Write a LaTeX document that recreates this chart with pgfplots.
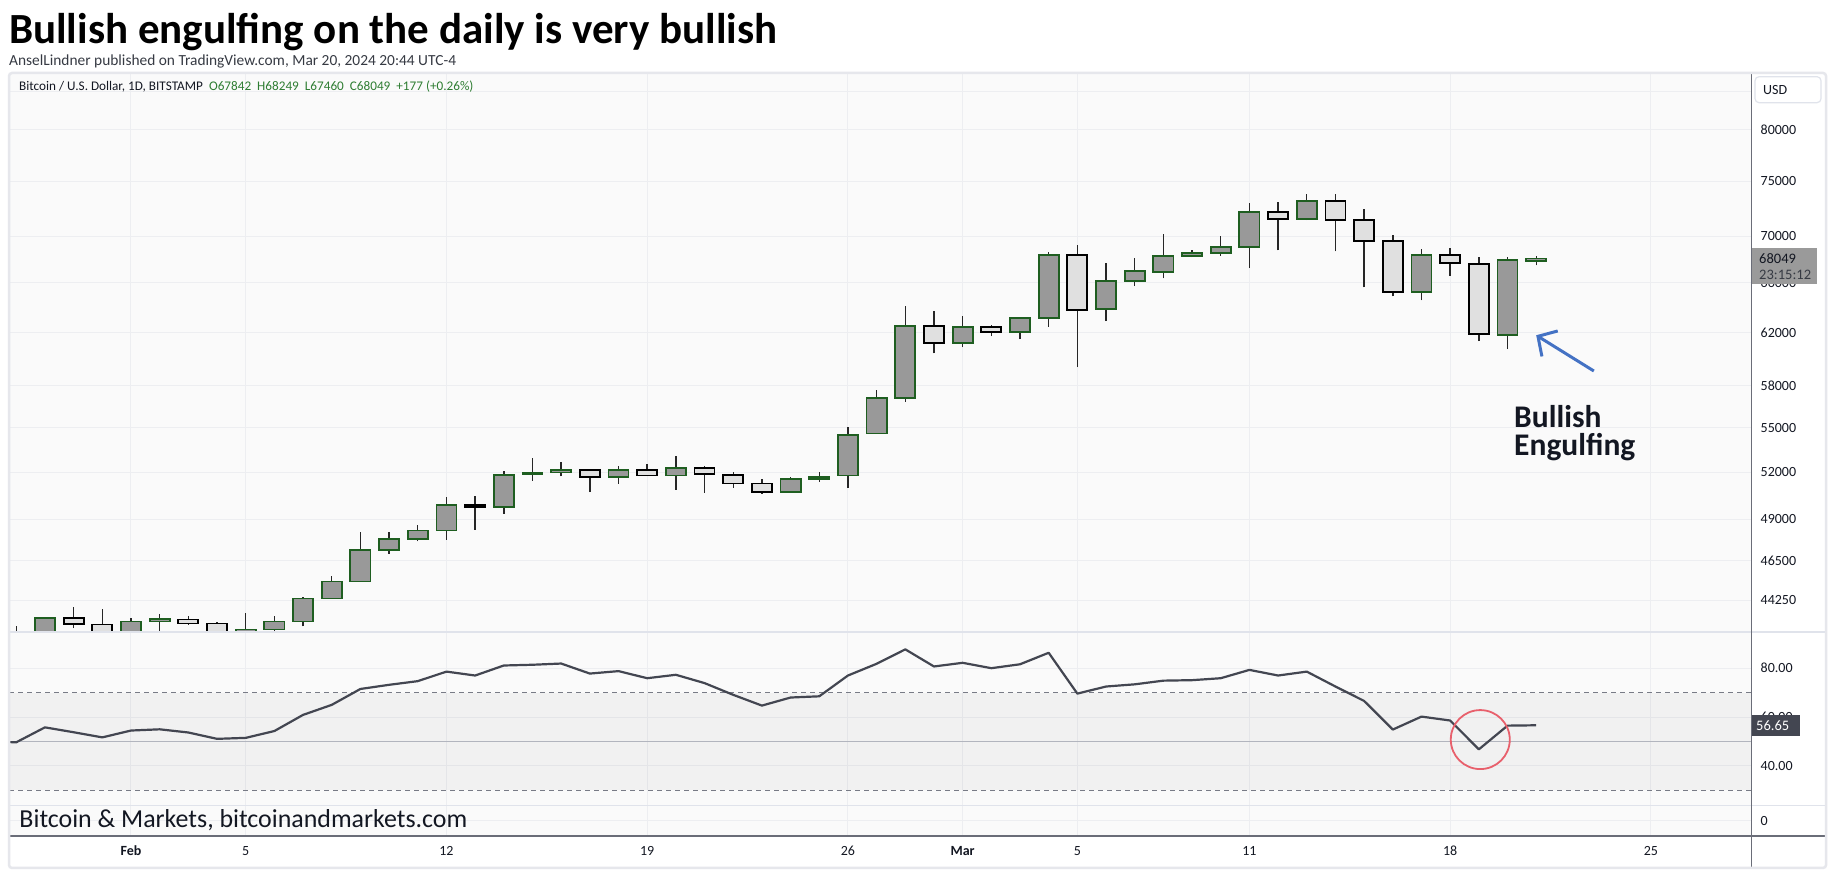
\documentclass[border=0pt]{standalone}
\usepackage{pgfplots}
\pgfplotsset{compat=1.18}
\usepackage{fontspec}
\setmainfont{Carlito}
\usetikzlibrary{arrows.meta}
\definecolor{upf}{HTML}{999999}
\definecolor{upb}{HTML}{1E5E20}
\definecolor{dnf}{HTML}{E0E0E0}
\definecolor{wickc}{HTML}{262626}
\definecolor{gridc}{HTML}{EDEEF1}
\definecolor{bgc}{HTML}{FAFAFA}
\definecolor{framec}{HTML}{E6E7EC}
\definecolor{sepc}{HTML}{E0E3EB}
\definecolor{axc}{HTML}{6A6D78}
\definecolor{txt}{HTML}{131722}
\definecolor{lg}{HTML}{2E7D32}
\definecolor{rsic}{HTML}{434651}
\definecolor{dashc}{HTML}{787B86}
\definecolor{midc}{HTML}{B2B5BE}
\definecolor{tagc}{HTML}{9A9A9A}
\definecolor{rtag}{HTML}{434651}
\definecolor{circc}{HTML}{E8606C}
\definecolor{arrc}{HTML}{4472C4}
\pgfplotsset{
  up/.style={draw=upb, fill=upf, line width=1.8pt, line join=miter},
  dn/.style={draw=black, fill=dnf, line width=1.8pt, line join=miter},
  wk/.style={wickc, line width=1.4pt},
  pane/.style={scale only axis, anchor=south west, width=1742pt,
    xmin=-4.254, xmax=56.49, axis line style={draw=none}, tick style={draw=none},
    xtick={0,4,11,18,25,29,33,39,46,53},
    grid=major, major grid style={gridc, line width=1pt},
    yticklabel pos=right,
    yticklabel style={anchor=west, inner sep=0pt, xshift=9.5pt, text=txt,
      font=\fontsize{14}{14}\selectfont},
    /pgf/number format/assume math mode=true},
  nox/.style={xmajorticks=false},
}
% x, open, high, low, close, style
\newcommand\candle[6]{%
  \pgfmathsetmacro\xa{#1-0.35}%
  \pgfmathsetmacro\xb{#1+0.35}%
  \edef\doplot{\noexpand\addplot[wk] coordinates {(#1,#4) (#1,#3)};
    \noexpand\addplot[#6] coordinates {(\xa,#2) (\xb,#2) (\xb,#5) (\xa,#5)} -- cycle;}%
  \doplot}
\begin{document}
\begin{tikzpicture}[x=1pt,y=1pt]
\useasboundingbox[fill=white] (0,0) rectangle (1835,880);
\fill[white] (9,12) rectangle (1826,807);
\fill[bgc] (9,44) rectangle (1751.7,807);

% ---------------- price pane ----------------
\begin{axis}[pane, nox, at={(9pt,248pt)}, height=559pt,
  ymode=log, ymin=42527, ymax=85951,
  ytick={44250,46500,49000,52000,55000,58000,62000,66000,70000,75000,80000,84000},
  yticklabels={44250,46500,49000,52000,55000,58000,62000,66000,70000,75000,80000,{}}]
\candle{-4}{42100}{42824}{41800}{42030}{dn}
\candle{-3}{42030}{43310}{41800}{43294}{up}
\candle{-2}{43294}{43881}{42736}{42942}{dn}
\candle{-1}{42921}{43776}{42300}{42500}{dn}
\candle{0}{42500}{43253}{41900}{43087}{up}
\candle{1}{43087}{43503}{42592}{43211}{up}
\candle{2}{43190}{43377}{42921}{42983}{dn}
\candle{3}{42983}{43087}{42300}{42550}{dn}
\candle{4}{42550}{43545}{42300}{42654}{up}
\candle{5}{42654}{43360}{42592}{43087}{up}
\candle{6}{43087}{44411}{42824}{44347}{up}
\candle{7}{44347}{45601}{44347}{45317}{up}
\candle{8}{45317}{48194}{45317}{47162}{up}
\candle{9}{47162}{48194}{46914}{47779}{up}
\candle{10}{47779}{48636}{47664}{48310}{up}
\candle{11}{48310}{50374}{47750}{49891}{up}
\candle{12}{49915}{50446}{48356}{49750}{dn}
\candle{13}{49750}{52103}{49343}{51829}{up}
\candle{14}{51854}{52911}{51431}{51978}{up}
\candle{15}{51978}{52657}{51729}{52154}{up}
\candle{16}{52154}{52229}{50714}{51655}{dn}
\candle{17}{51655}{52430}{51236}{52154}{up}
\candle{18}{52154}{52531}{51750}{51778}{dn}
\candle{19}{51778}{53064}{50860}{52279}{up}
\candle{20}{52279}{52430}{50665}{51854}{dn}
\candle{21}{51829}{52028}{50982}{51261}{dn}
\candle{22}{51261}{51531}{50592}{50738}{dn}
\candle{23}{50738}{51704}{50665}{51570}{up}
\candle{24}{51570}{52002}{51382}{51704}{up}
\candle{25}{51778}{55012}{50982}{54512}{up}
\candle{26}{54590}{57638}{54590}{57114}{up}
\candle{27}{57114}{64066}{56813}{62515}{up}
\candle{28}{62515}{63730}{60388}{61177}{dn}
\candle{29}{61177}{63332}{60854}{62425}{up}
\candle{30}{62425}{62545}{61709}{62036}{dn}
\candle{31}{62036}{63241}{61472}{63150}{up}
\candle{32}{63150}{68625}{62425}{68329}{up}
\candle{33}{68329}{69254}{59352}{63760}{dn}
\candle{34}{63852}{67675}{62877}{66132}{up}
\candle{35}{66132}{68132}{65720}{66995}{up}
\candle{36}{66898}{70194}{66355}{68263}{up}
\candle{37}{68263}{68758}{68165}{68526}{up}
\candle{38}{68493}{70026}{68263}{69022}{up}
\candle{39}{69022}{72981}{67221}{72143}{up}
\candle{40}{72143}{73087}{68758}{71522}{dn}
\candle{41}{71522}{73757}{71419}{73157}{up}
\candle{42}{73157}{73827}{68658}{71419}{dn}
\candle{43}{71419}{72457}{65624}{69555}{dn}
\candle{44}{69555}{70100}{64880}{65220}{dn}
\candle{45}{65220}{68890}{64546}{68329}{up}
\candle{46}{68329}{68935}{66596}{67643}{dn}
\candle{47}{67560}{68170}{61330}{61856}{dn}
\candle{48}{61800}{68150}{60710}{67893}{up}
\candle{49}{67842}{68249}{67460}{68049}{up}
% annotation arrow
\addplot[arrc, line width=3pt, -{Straight Barb[length=14pt,width=30pt,line width=3pt]}]
  coordinates {(51.01,59062) (49.0,61778)};
\end{axis}

% ---------------- RSI pane ----------------
\begin{axis}[pane, nox, at={(9pt,74.3pt)}, height=173.7pt,
  ymin=23.76, ymax=94.8, ytick={40,60,80}, yticklabels={40.00,60.00,80.00}]
\addplot[draw=none, fill=black, fill opacity=0.035]
  coordinates {(-4.254,30) (56.49,30) (56.49,70) (-4.254,70)} -- cycle;
\addplot[dashc, line width=1pt, dash pattern=on 5pt off 4pt] coordinates {(-4.254,70) (56.49,70)};
\addplot[dashc, line width=1pt, dash pattern=on 5pt off 4pt] coordinates {(-4.254,30) (56.49,30)};
\addplot[midc, line width=1.3pt] coordinates {(-4.254,50) (56.49,50)};
\addplot[rsic, line width=2.2pt, line join=round] coordinates {
(-5,50.0) (-4,49.7) (-3,55.8) (-2,53.8) (-1,51.7) (0,54.5) (1,55.0) (2,53.7) (3,51.1) (4,51.5)
(5,54.3) (6,60.9) (7,65.0) (8,71.5) (9,73.2) (10,74.7) (11,78.6) (12,77.0) (13,81.1) (14,81.4)
(15,81.9) (16,77.8) (17,78.8) (18,75.9) (19,77.3) (20,73.9) (21,69.1) (22,64.7) (23,68.0) (24,68.5)
(25,77.0) (26,81.8) (27,87.7) (28,80.7) (29,82.2) (30,80.0) (31,81.6) (32,86.3) (33,69.6) (34,72.5)
(35,73.4) (36,74.9) (37,75.1) (38,75.9) (39,79.3) (40,77.0) (41,78.6) (42,72.5) (43,66.6) (44,54.9)
(45,60.2) (46,58.6) (47,46.8) (48,56.5) (49,56.65)};
\addplot[only marks, mark=o, mark size=29.5pt, mark options={draw=circc, line width=1.8pt}]
  coordinates {(47.05,50.8)};
\end{axis}

% ---------------- bottom pane + dates ----------------
\begin{axis}[pane, at={(9pt,44pt)}, height=30.3pt,
  ymin=-1, ymax=1, ytick={0}, yticklabels={0},
  xticklabels={\textbf{Feb},5,12,19,26,\textbf{Mar},5,11,18,25},
  xticklabel style={anchor=base, yshift=-19pt, text=txt, font=\fontsize{14}{14}\selectfont}]
\end{axis}

% separators and frame
\draw[sepc, line width=1.2pt] (9,248) -- (1826,248);
\draw[sepc, line width=1.2pt] (9,74.3) -- (1826,74.3);
\draw[axc, line width=1.2pt] (9,44) -- (1826,44);
\draw[axc, line width=1.2pt] (1751.7,12) -- (1751.7,807);
\draw[framec, line width=2.5pt, rounded corners=3pt] (9,12) rectangle (1826,807);

% price tag
\fill[tagc] (1751.7,596) rectangle (1816.7,632);
\node[anchor=base west, inner sep=0, text=txt, font=\fontsize{14.5}{14.5}\selectfont] at (1759,616.7) {68049};
\node[anchor=base west, inner sep=0, text=txt!85, font=\fontsize{14.5}{14.5}\selectfont] at (1759,600.7) {23:15:12};
% RSI tag
\fill[rtag] (1751.7,144.3) rectangle (1800,165);
\node[anchor=west, inner sep=0, text=white, font=\fontsize{14.5}{14.5}\selectfont] at (1756,154.6) {56.65};
% USD button
\draw[sepc, fill=white, line width=1.2pt, rounded corners=4pt] (1755,777.3) rectangle (1821,803.3);
\node[anchor=west, inner sep=0, text=txt, font=\fontsize{14}{14}\selectfont] at (1763,790.3) {USD};

% titles
\node[anchor=base west, inner sep=0, text=black, font=\fontsize{43}{43}\selectfont\bfseries] at (9,836.7)
  {Bullish engulfing on the daily is very bullish};
\node[anchor=base west, inner sep=0, text=txt!85, font=\fontsize{15.4}{15.4}\selectfont] at (9,814.5)
  {AnselLindner published on TradingView.com, Mar 20, 2024 20:44 UTC-4};
\node[anchor=base west, inner sep=0, font=\fontsize{13.2}{13.2}\selectfont] at (19,789)
  {\textcolor{txt}{Bitcoin / U.S. Dollar, 1D, BITSTAMP}\hspace{6pt}\textcolor{lg}{O67842\hspace{6pt}H68249\hspace{6pt}L67460\hspace{6pt}C68049\hspace{6pt}+177 (+0.26\%)}};
% annotation text
\node[anchor=base west, inner sep=0, text=txt, font=\fontsize{31.5}{31.5}\selectfont\bfseries] at (1514,452.4) {Bullish};
\node[anchor=base west, inner sep=0, text=txt, font=\fontsize{31.5}{31.5}\selectfont\bfseries] at (1514,424.5) {Engulfing};
% watermark text
\node[anchor=base west, inner sep=0, text=txt, font=\fontsize{25.9}{25.9}\selectfont] at (19.3,52.7)
  {Bitcoin \& Markets, bitcoinandmarkets.com};
\end{tikzpicture}
\end{document}
